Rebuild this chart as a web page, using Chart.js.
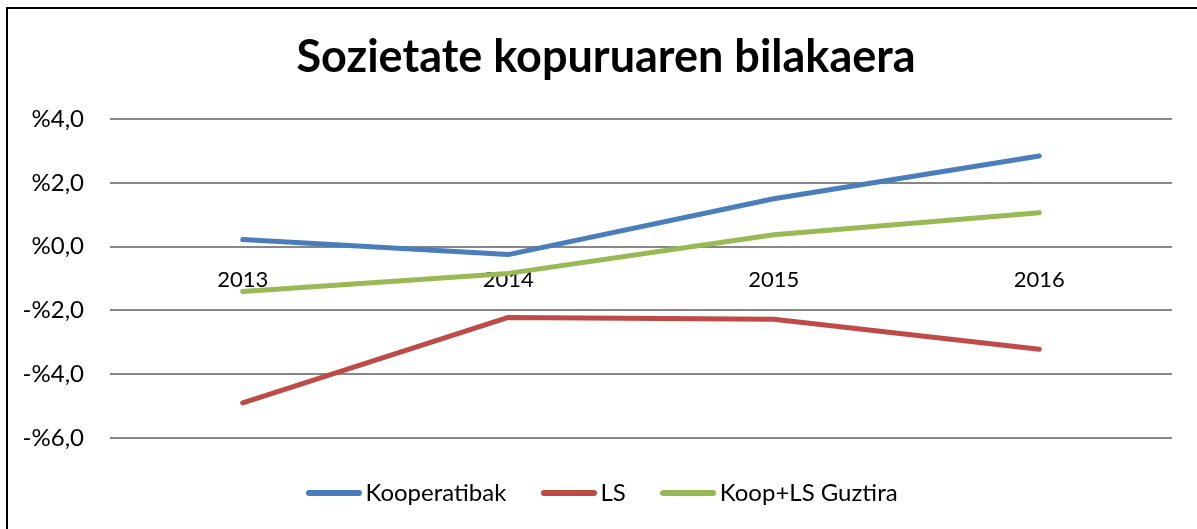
<!DOCTYPE html>
<html>
<head>
<meta charset="utf-8">
<script src="https://cdn.jsdelivr.net/npm/chart.js@4"></script>
<style>
  html, body { margin: 0; padding: 0; overflow: hidden; background: #fff; }
  #wrap {
    position: absolute; left: 6px; top: 7px;
    border: 2px solid #000; background: #fff;
  }
  #wrap canvas { display: block; }
</style>
</head>
<body>
<div id="wrap">
  <canvas id="sozChart" width="1196" height="520"></canvas>
</div>
<script>
const years = ['2013', '2014', '2015', '2016'];
const koop_data = [0.22, -0.25, 1.5, 2.84];
const ls_data = [-4.9, -2.22, -2.28, -3.22];
const total_data = [-1.41, -0.84, 0.37, 1.06];
const y_ticks = [-6, -4, -2, 0, 2, 4];

const font_family = 'Lato, "Noto Sans", sans-serif';

function pctLabel(v) {
  return (v < 0 ? '-' : '') + '%' + Math.abs(v).toFixed(1).replace('.', ',');
}

// small line picture used as legend marker (Excel style)
function legendLine(color) {
  const c = document.createElement('canvas');
  c.width = 56;
  c.height = 8;
  const ctx = c.getContext('2d');
  ctx.strokeStyle = color;
  ctx.lineWidth = 6;
  ctx.lineCap = 'round';
  ctx.beginPath();
  ctx.moveTo(3, 4);
  ctx.lineTo(53, 4);
  ctx.stroke();
  return c;
}

const data = {
  labels: years,
  datasets: [{
    label: 'Kooperatibak',
    borderColor: '#4a7ebb',
    backgroundColor: '#4a7ebb',
    data: koop_data
  }, {
    label: 'LS',
    borderColor: '#be4b48',
    backgroundColor: '#be4b48',
    data: ls_data
  }, {
    label: 'Koop+LS Guztira',
    borderColor: '#98b954',
    backgroundColor: '#98b954',
    data: total_data
  }]
};

const config = {
  type: 'line',
  data: data,
  options: {
    responsive: false,
    animation: false,
    layout: {
      padding: { left: 0, right: 0, top: 0, bottom: 14 }
    },
    elements: {
      line: { borderWidth: 5, tension: 0, borderCapStyle: 'round', borderJoinStyle: 'round' },
      point: { radius: 0, hoverRadius: 0 }
    },
    scales: {
      x: {
        position: { y: 0 },
        offset: true,
        grid: { display: false, drawTicks: false },
        border: { display: false },
        ticks: {
          color: '#000',
          padding: 20,
          font: { family: font_family, size: 22 }
        }
      },
      y: {
        min: -6,
        max: 4,
        afterFit: function(scale) { scale.width = 102; },
        afterBuildTicks: function(scale) {
          scale.ticks = y_ticks.map(v => ({ value: v }));
        },
        grid: { color: '#878787', lineWidth: 2, drawTicks: false },
        border: { display: false },
        ticks: {
          color: '#000',
          padding: 26,
          font: { family: font_family, size: 24 },
          callback: function(value) { return pctLabel(value); }
        }
      },
      // empty axis on the right, only keeps the gap after the plot
      y2: {
        position: 'right',
        min: 0,
        max: 1,
        afterFit: function(scale) { scale.width = 32; },
        grid: { display: false, drawTicks: false },
        border: { display: false },
        ticks: { display: false }
      }
    },
    plugins: {
      title: {
        display: true,
        text: 'Sozietate kopuruaren bilakaera',
        color: '#000',
        font: { family: font_family, size: 45, weight: 'bold' },
        padding: { top: 21, bottom: 35 }
      },
      legend: {
        position: 'bottom',
        labels: {
          color: '#000',
          usePointStyle: true,
          pointStyleWidth: 39,
          boxHeight: 8,
          padding: 43,
          font: { family: font_family, size: 24 },
          generateLabels: function(chart) {
            return chart.data.datasets.map((ds, i) => ({
              text: ds.label,
              fillStyle: ds.borderColor,
              strokeStyle: ds.borderColor,
              lineWidth: 0,
              pointStyle: legendLine(ds.borderColor),
              fontColor: '#000',
              datasetIndex: i
            }));
          }
        }
      },
      tooltip: { enabled: false }
    }
  }
};

const myChart = new Chart(document.getElementById('sozChart'), config);
</script>
</body>
</html>
